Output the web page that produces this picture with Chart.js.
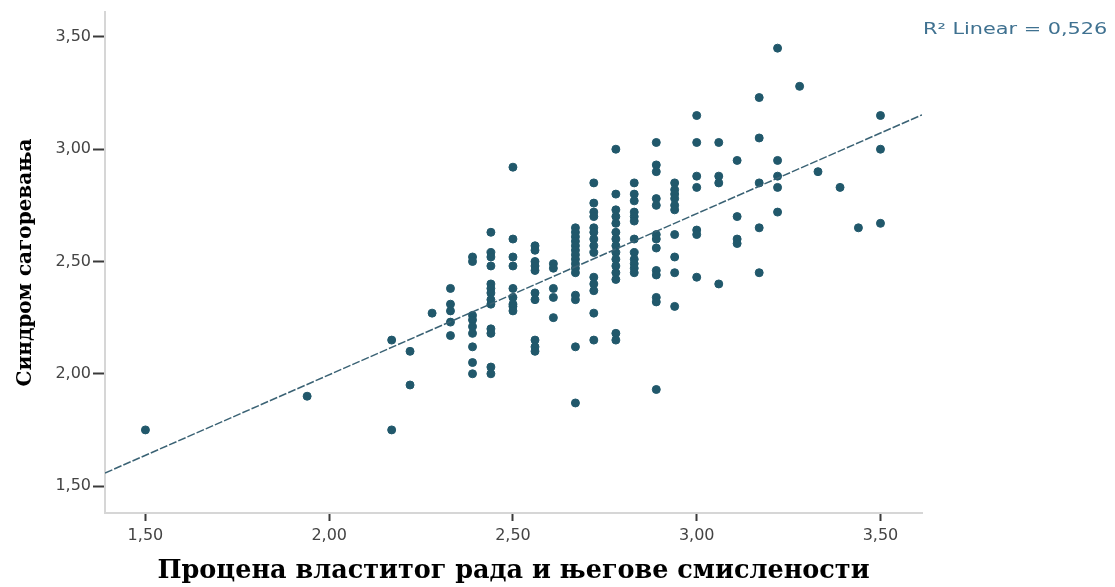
<!DOCTYPE html>
<html>
<head>
<meta charset="utf-8">
<script src="https://cdn.jsdelivr.net/npm/chart.js@4.4.1/dist/chart.umd.min.js"></script>
<style>
  html, body { margin: 0; padding: 0; background: #fff; }
  #wrap { width: 1115px; height: 587px; }
</style>
</head>
<body>
<div id="wrap"><canvas id="chart" width="1115" height="587"></canvas></div>
<script>
// ── Data ──────────────────────────────────────────────────
const colX = [1.50, 1.94, 2.17, 2.22, 2.28, 2.33, 2.39, 2.44, 2.50, 2.56, 2.61, 2.67, 2.72,
              2.78, 2.83, 2.89, 2.94, 3.00, 3.06, 3.11, 3.17, 3.22, 3.28, 3.33, 3.39, 3.44, 3.50];
const colY = [
  [1.75],
  [1.90],
  [2.15, 1.75],
  [2.10, 1.95],
  [2.27],
  [2.38, 2.31, 2.28, 2.23, 2.17],
  [2.52, 2.50, 2.26, 2.24, 2.21, 2.18, 2.12, 2.05, 2.00],
  [2.63, 2.54, 2.52, 2.48, 2.40, 2.38, 2.36, 2.33, 2.31, 2.20, 2.18, 2.03, 2.00],
  [2.92, 2.60, 2.52, 2.48, 2.38, 2.34, 2.31, 2.30, 2.28],
  [2.57, 2.55, 2.50, 2.48, 2.46, 2.36, 2.33, 2.15, 2.12, 2.10],
  [2.49, 2.47, 2.38, 2.34, 2.25],
  [2.65, 2.63, 2.61, 2.59, 2.57, 2.55, 2.53, 2.51, 2.49, 2.47, 2.45, 2.35, 2.33, 2.12, 1.87],
  [2.85, 2.76, 2.72, 2.70, 2.65, 2.63, 2.60, 2.57, 2.54, 2.43, 2.40, 2.37, 2.27, 2.15],
  [3.00, 2.80, 2.73, 2.70, 2.67, 2.63, 2.60, 2.57, 2.54, 2.51, 2.48, 2.45, 2.42, 2.18, 2.15],
  [2.85, 2.80, 2.77, 2.72, 2.70, 2.68, 2.60, 2.54, 2.51, 2.49, 2.47, 2.45],
  [3.03, 2.93, 2.90, 2.78, 2.75, 2.62, 2.60, 2.56, 2.46, 2.44, 2.34, 2.32, 1.93],
  [2.85, 2.82, 2.80, 2.78, 2.75, 2.73, 2.62, 2.52, 2.45, 2.30],
  [3.15, 3.03, 2.88, 2.83, 2.64, 2.62, 2.43],
  [3.03, 2.88, 2.85, 2.40],
  [2.95, 2.70, 2.60, 2.58],
  [3.23, 3.05, 2.85, 2.65, 2.45],
  [3.45, 2.95, 2.88, 2.83, 2.72],
  [3.28],
  [2.90],
  [2.83],
  [2.65],
  [3.15, 3.00, 2.67],
];

// fit line end points
const fitX = [1.39, 3.613];
const fitY = [1.558, 3.153];

const xTicks = [1.50, 2.00, 2.50, 3.00, 3.50];
const yTicks = [1.50, 2.00, 2.50, 3.00, 3.50];

const xTitle  = "Процена властитог рада и његове смислености";
const yTitle  = "Синдром сагоревања";
const r2Label = "R² Linear = 0,526";

// ── Colours ───────────────────────────────────────────────
const DOT_CLR  = "#21586b";
const FIT_CLR  = "#3a6274";
const AXIS_CLR = "#d6d6d6";
const TICK_CLR = "#3a3a3a";
const R2_CLR   = "#3f7190";

const points = colX.flatMap((x, i) => colY[i].map(y => ({ x, y })));
const fitLine = fitX.map((x, i) => ({ x, y: fitY[i] }));

const fmt = v => Number(v).toFixed(2).replace(".", ",");

// R² note in the top right corner
const r2Plugin = {
  id: "r2Label",
  afterDraw(chart) {
    const ctx = chart.ctx;
    ctx.save();
    ctx.font = '16px "DejaVu Sans"';
    ctx.fillStyle = R2_CLR;
    ctx.textBaseline = "middle";
    ctx.translate(chart.chartArea.right + 1, 30);
    ctx.scale(1.3, 1);
    ctx.fillText(r2Label, 0, 0);
    ctx.restore();
  },
};

new Chart(document.getElementById("chart"), {
  type: "scatter",
  data: {
    datasets: [
      {
        label: "fit",
        data: fitLine,
        showLine: true,
        borderColor: FIT_CLR,
        borderWidth: 1.5,
        borderDash: [8, 2],
        pointRadius: 0,
        order: 0,
      },
      {
        label: "points",
        data: points,
        backgroundColor: DOT_CLR,
        borderColor: DOT_CLR,
        borderWidth: 1,
        pointRadius: 4,
        order: 1,
      },
    ],
  },
  options: {
    responsive: false,
    animation: false,
    layout: { padding: { left: 0, right: 193, top: 12, bottom: 0 } },
    scales: {
      x: {
        type: "linear",
        min: 1.39, max: 3.613,
        afterFit: s => { s.height = 74; },
        afterBuildTicks: s => { s.ticks = xTicks.map(v => ({ value: v })); },
        ticks: {
          callback: v => fmt(v),
          font: { family: "DejaVu Sans", size: 16 },
          color: "#444",
          padding: 5,
          maxRotation: 0,
        },
        grid: {
          drawOnChartArea: false,
          drawTicks: true,
          tickLength: 8,
          tickWidth: 2,
          tickColor: TICK_CLR,
        },
        border: { display: true, color: AXIS_CLR, width: 2 },
        title: {
          display: true,
          text: xTitle,
          font: { family: "DejaVu Serif", size: 25.5, weight: "bold" },
          color: "#000",
          padding: { top: 0, bottom: 0 },
        },
      },
      y: {
        type: "linear",
        min: 1.38, max: 3.611,
        afterFit: s => { s.width = 105; },
        afterBuildTicks: s => { s.ticks = yTicks.map(v => ({ value: v })); },
        ticks: {
          callback: v => fmt(v),
          font: { family: "DejaVu Sans", size: 16 },
          color: "#444",
          padding: 2,
        },
        grid: {
          drawOnChartArea: false,
          drawTicks: true,
          tickLength: 12,
          tickWidth: 2,
          tickColor: TICK_CLR,
        },
        border: { display: true, color: AXIS_CLR, width: 2 },
        title: {
          display: true,
          text: yTitle,
          font: { family: "DejaVu Serif", size: 20, weight: "bold" },
          color: "#000",
          padding: { top: 14, bottom: 0 },
        },
      },
    },
    plugins: {
      legend: { display: false },
      tooltip: { enabled: false },
    },
  },
  plugins: [r2Plugin],
});
</script>
</body>
</html>
